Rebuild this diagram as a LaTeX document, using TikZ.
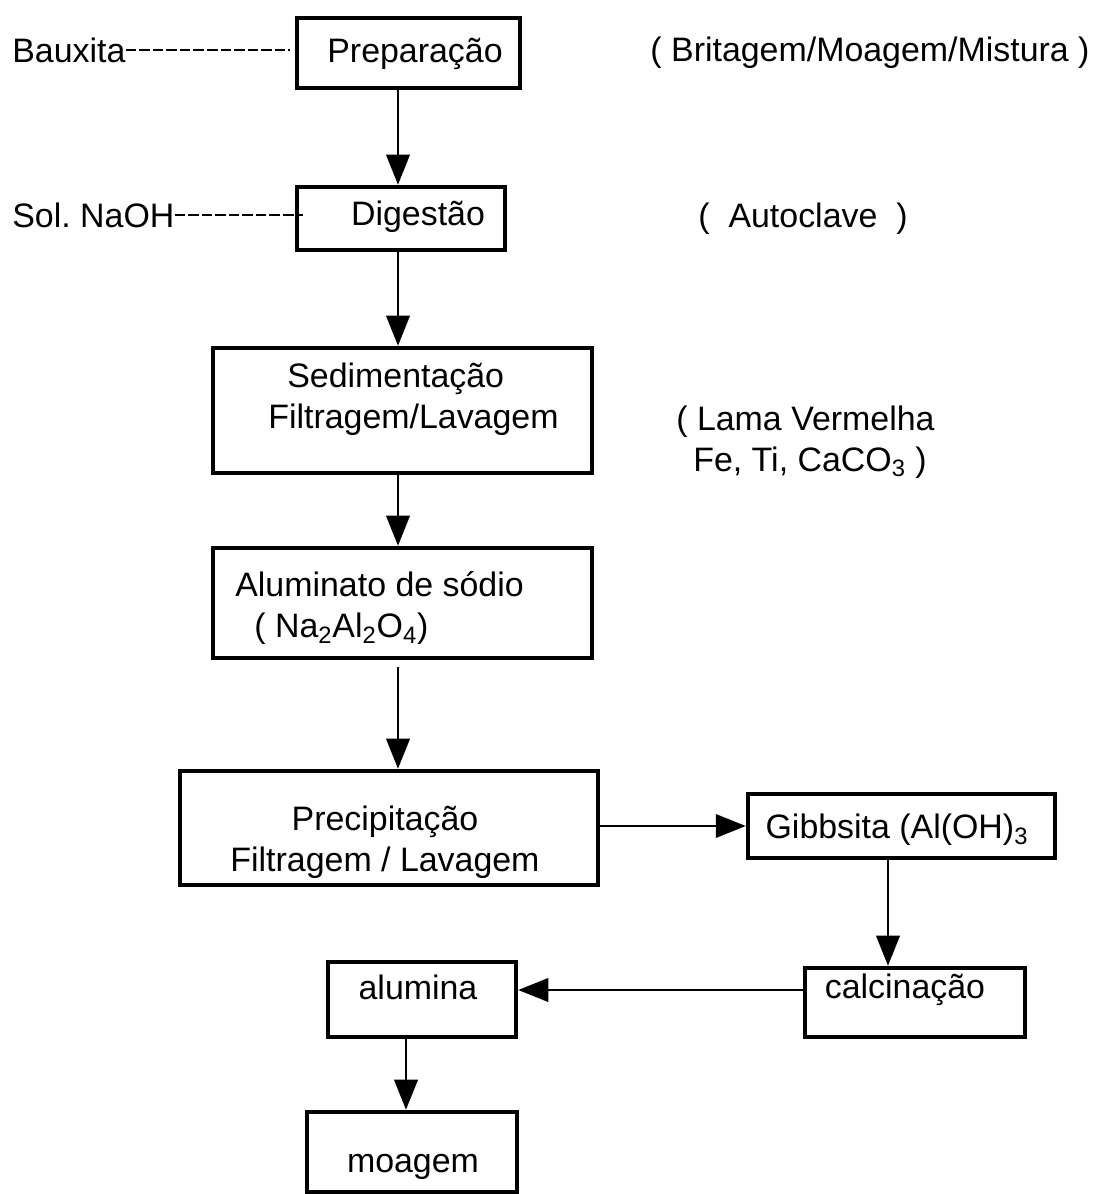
\documentclass[tikz,border=0pt]{standalone}
\usepackage{fontspec}
\setmainfont{Liberation Sans}
\usetikzlibrary{arrows.meta}

\begin{document}
\begin{tikzpicture}[
        x=0.02cm, y=-0.02cm,
        font=\fontsize{19.3}{23.5}\selectfont,
        box/.style={rectangle, draw, line width=2.6pt, inner sep=0pt},
        txt/.style={inner sep=0pt, align=center},
        arrow/.style={-{Triangle[length=0.6cm, width=0.47cm]}, line width=1.3pt},
        feed/.style={line width=1.1pt, dash pattern=on 6pt off 1.7pt}
    ]

        \useasboundingbox[fill=white] (0,0) rectangle (1101,1194);

        % Boxes
        \node [box, minimum width=4.46cm, minimum height=1.4cm] (prep) at (408.5,53) {};
        \node [box, minimum width=4.16cm, minimum height=1.26cm] (dig) at (401,218.5) {};
        \node [box, minimum width=7.58cm, minimum height=2.5cm] (sed) at (402.5,410.5) {};
        \node [box, minimum width=7.58cm, minimum height=2.2cm] (alum) at (402.5,603) {};
        \node [box, minimum width=8.36cm, minimum height=2.28cm] (prec) at (389,828) {};
        \node [box, minimum width=6.14cm, minimum height=1.28cm] (gibbs) at (901.5,826) {};
        \node [box, minimum width=4.4cm, minimum height=1.38cm] (calc) at (915,1002.5) {};
        \node [box, minimum width=3.76cm, minimum height=1.5cm] (alumina) at (422,999.5) {};
        \node [box, minimum width=4.2cm, minimum height=1.6cm] (moagem) at (412,1152) {};

        % Texts
        \node [txt] (prep-txt) at (415,54) {Preparação};
        \node [txt] (dig-txt) at (418,217) {Digestão};
        \node [txt, anchor=west, align=left] (sed-txt) at (268,399)
            {\hspace*{0.38cm}Sedimentação\\Filtragem/Lavagem};
        \node [txt, anchor=west, align=left] (alum-txt) at (235,608)
            {Aluminato de sódio\\\hspace*{0.38cm}( Na\textsubscript{2}Al\textsubscript{2}O\textsubscript{4})};
        \node [txt] (prec-txt) at (385,842) {Precipitação\\Filtragem / Lavagem};
        \node [txt] (gibbs-txt) at (897,830) {Gibbsita (Al(OH)\textsubscript{3}};
        \node [txt] (calc-txt) at (905,990) {calcinação};
        \node [txt] (alumina-txt) at (418,987) {alumina};
        \node [txt] (moagem-txt) at (413,1167) {moagem};

        \node [txt, anchor=west] (baux) at (12,50) {Bauxita};
        \node [txt, anchor=west] (naoh) at (12,215) {Sol.\ NaOH};
        \node [txt] (brit) at (870,53) {( Britagem/Moagem/Mistura )};
        \node [txt] (autoclave) at (803,219) {(\ \ Autoclave\ \ )};
        \node [txt, anchor=west, align=left] (lama) at (676,442)
            {( Lama Vermelha\\\hspace*{0.34cm}Fe, Ti, CaCO\textsubscript{3} )};

        % Edges
        \coordinate (spine) at (398,0);
        \coordinate (spine2) at (406,0);
        \coordinate (drop) at (888,0);
        \coordinate (back) at (0,990);

        \draw [feed, shorten >=0.1cm] (baux.east) -- (baux.east -| prep.west);
        \draw [feed, shorten >=-0.16cm] (naoh.east) -- (naoh.east -| dig.west);

        \draw [arrow] (prep.south -| spine) -- (dig.north -| spine);
        \draw [arrow] (dig.south -| spine) -- (sed.north -| spine);
        \draw [arrow] (sed.south -| spine) -- (alum.north -| spine);
        \draw [arrow] ([yshift=-0.14cm]alum.south -| spine) -- (prec.north -| spine);
        \draw [arrow] (prec.east |- gibbs.west) -- (gibbs.west);
        \draw [arrow] (gibbs.south -| drop) -- (calc.north -| drop);
        \draw [arrow] (calc.west |- back) -- (alumina.east |- back);
        \draw [arrow] (alumina.south -| spine2) -- (moagem.north -| spine2);

    \end{tikzpicture}
\end{document}
